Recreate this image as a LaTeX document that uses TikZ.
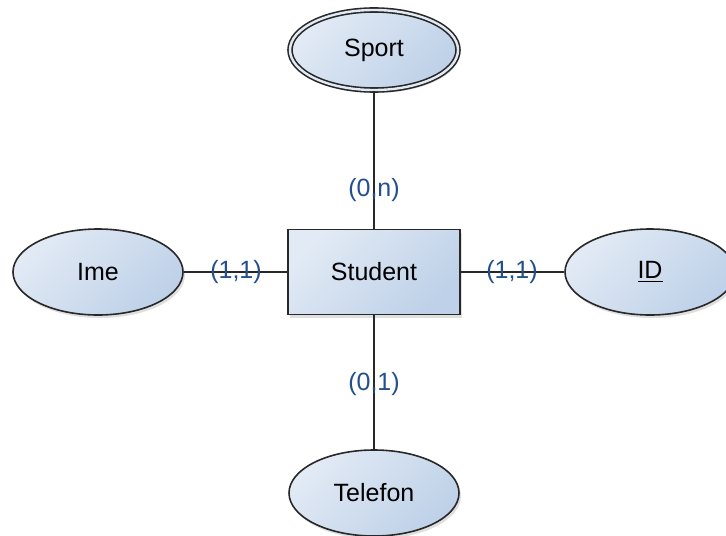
\documentclass[tikz,border=0pt]{standalone}
\usepackage{fontspec}
\setmainfont{Liberation Sans}
\usetikzlibrary{shapes.geometric, shadows}

\definecolor{erfillA}{RGB}{226,234,245}
\definecolor{erfillB}{RGB}{190,209,232}
\definecolor{erline}{RGB}{40,40,40}
\definecolor{cardblue}{RGB}{35,80,140}

\begin{document}
\begin{tikzpicture}[x=0.5pt, y=-0.5pt,
        every node/.style={font=\fontsize{12.5}{15}\selectfont},
        erbase/.style={draw=erline, line width=0.8pt, shading=axis, left color=erfillA, right color=erfillB, shading angle=45,
                       drop shadow={shadow xshift=1pt, shadow yshift=-1.5pt, opacity=0.25}},
        entity/.style={erbase, rectangle, minimum width=86pt, minimum height=42.5pt, inner sep=0pt},
        attrib/.style={erbase, ellipse, minimum width=85pt, minimum height=43pt, inner sep=0pt},
        multiattrib/.style={attrib, double=erfillA, double distance=1.2pt, minimum width=84pt, minimum height=40pt},
        card/.style={text=cardblue, inner sep=1pt},
        link/.style={draw=erline, line width=0.8pt}]
    \useasboundingbox (0,0) rectangle (726,535);

    % entity and its attributes
    \node[entity] (student) at (374,272) {Student};
    \node[multiattrib] (sport) at (374,50) {Sport};
    \node[attrib] (ime) at (98,272) {Ime};
    \node[attrib] (id) at (650,272) {\underline{ID}};
    \node[attrib] (telefon) at (374,493) {Telefon};

    % connectors
    \draw[link] (sport) -- (student);
    \draw[link] (ime) -- (student);
    \draw[link] (student) -- (id);
    \draw[link] (student) -- (telefon);

    % cardinalities
    \node[card] (cardsport) at (374,190) {(0,n)};
    \node[card] (cardime) at (236,272) {(1,1)};
    \node[card] (cardid) at (512,272) {(1,1)};
    \node[card] (cardtel) at (374,384) {(0,1)};
\end{tikzpicture}
\end{document}
